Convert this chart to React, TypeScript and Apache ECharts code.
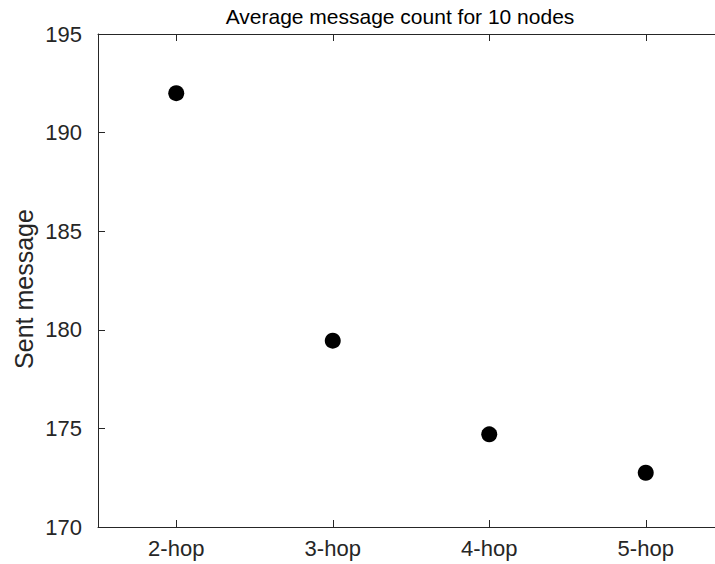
import React, { useEffect, useRef } from "react";
import * as echarts from "echarts";

const categories = ["2-hop", "3-hop", "4-hop", "5-hop"];
const sentMessages = [192.0, 179.45, 174.7, 172.75];
const yMin = 170;
const yMax = 195;
const yStep = 5;
const titleText = "Average message count for 10 nodes";
const yName = "Sent message";

export default function App() {
  const ref = useRef<HTMLDivElement>(null);
  useEffect(() => {
    document.body.style.margin = "0";
    document.body.style.overflow = "hidden";
    const chart = echarts.init(ref.current!, null, { renderer: "svg" });
    const font = "Liberation Sans, Arial, Helvetica, sans-serif";
    const lineColor = "#262626";
    const tick = { show: true, inside: true, length: 7, lineStyle: { color: lineColor, width: 1 } };
    chart.setOption({
      animation: false,
      backgroundColor: "#fff",
      title: {
        text: titleText,
        left: 395,
        top: 1,
        textAlign: "center",
        textStyle: { fontFamily: font, fontSize: 21, fontWeight: "normal", color: "#000" },
      },
      graphic: [
        {
          type: "text",
          x: 24,
          y: 289,
          rotation: Math.PI / 2,
          style: {
            text: yName,
            fontFamily: font,
            fontSize: 25,
            fill: "#262626",
            textAlign: "center",
            textVerticalAlign: "middle",
          },
        },
      ],
      grid: { left: 98, right: 36, top: 34, bottom: 37, outerBoundsMode: "none" },
      xAxis: [
        {
          type: "category",
          data: categories,
          position: "bottom",
          boundaryGap: true,
          axisLine: { show: true, lineStyle: { color: lineColor, width: 1 } },
          axisTick: { ...tick, alignWithLabel: true },
          axisLabel: { fontFamily: font, fontSize: 22, color: "#262626", margin: 10 },
          splitLine: { show: false },
        },
        {
          type: "category",
          data: categories,
          position: "top",
          boundaryGap: true,
          axisLine: { show: true, lineStyle: { color: lineColor, width: 1 } },
          axisTick: { ...tick, alignWithLabel: true },
          axisLabel: { show: false },
          splitLine: { show: false },
        },
      ],
      yAxis: {
        type: "value",
        min: yMin,
        max: yMax,
        interval: yStep,
        axisLine: { show: true, lineStyle: { color: lineColor, width: 1 } },
        axisTick: tick,
        axisLabel: { fontFamily: font, fontSize: 22, color: "#262626", margin: 16 },
        splitLine: { show: false },
      },
      series: [
        {
          type: "scatter",
          xAxisIndex: 0,
          data: sentMessages,
          symbol: "circle",
          symbolSize: 16,
          itemStyle: { color: "#000", opacity: 1 },
        },
      ],
    });
    return () => chart.dispose();
  }, []);
  return (
    <div style={{ width: 715, height: 564, overflow: "hidden", position: "relative" }}>
      <div ref={ref} style={{ width: 760, height: 564 }} />
    </div>
  );
}
